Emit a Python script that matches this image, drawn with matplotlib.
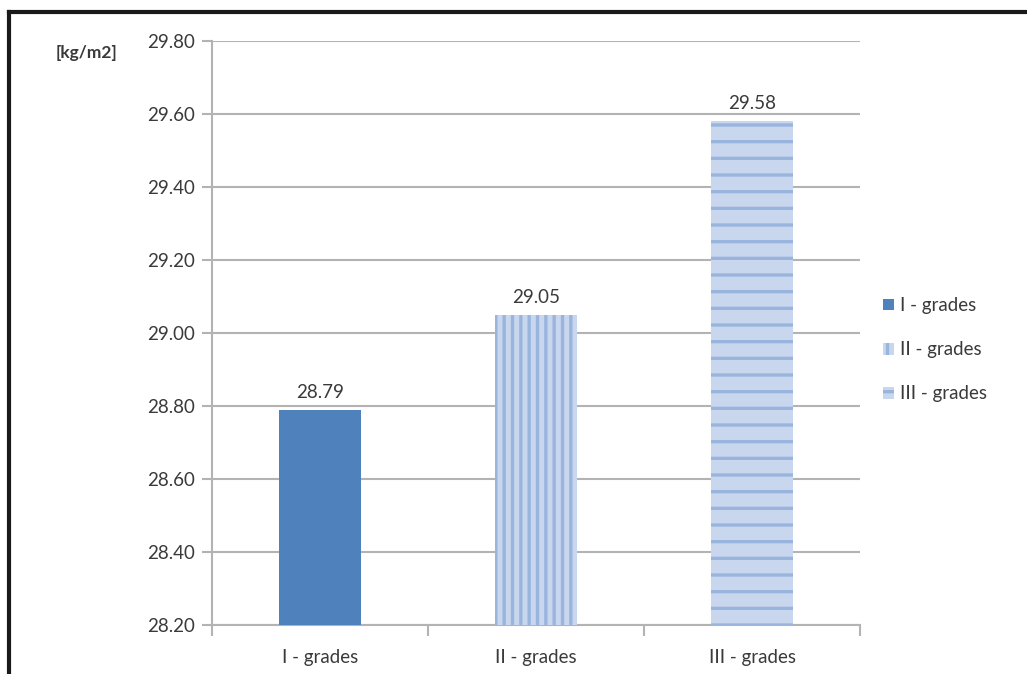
import matplotlib.pyplot as plt
from matplotlib.lines import Line2D
from matplotlib.patches import Patch

categories = ['I - grades', 'II - grades', 'III - grades']
values = [28.79, 29.05, 29.58]
y_ticks = [28.20, 28.40, 28.60, 28.80, 29.00, 29.20, 29.40, 29.60, 29.80]

plt.rcParams['font.family'] = ['Lato', 'DejaVu Sans']
plt.rcParams['hatch.linewidth'] = 2.4

face_colors = ['#4f81bd', '#c9d7ee', '#c9d7ee']
stripe_colors = ['#4f81bd', '#9ab5dd', '#9ab5dd']
hatches = ['', '||', '-']
text_color = '#3a3a3a'
grid_color = '#b3b3b3'


def main():
    fig = plt.figure(figsize=(10.27, 6.74), dpi=100)
    ax = fig.add_axes([0.2064, 0.0727, 0.6310, 0.8665])

    x = list(range(len(categories)))
    bars = ax.bar(x, [v - y_ticks[0] for v in values], bottom=y_ticks[0],
                  width=0.38, color=face_colors, edgecolor=stripe_colors,
                  linewidth=0, zorder=3)
    for bar, h in zip(bars, hatches):
        bar.set_hatch(h)

    for xi, v in zip(x, values):
        ax.text(xi, v + 0.025, f'{v:.2f}', ha='center', va='bottom',
                fontsize=13.5, color=text_color)

    ax.set_xlim(-0.5, 2.5)
    ax.set_ylim(y_ticks[0], y_ticks[-1])
    ax.set_yticks(y_ticks)
    ax.set_yticklabels([f'{t:.2f}' for t in y_ticks])
    ax.set_xticks(x)
    ax.set_xticklabels(categories)
    ax.set_xticks([-0.5, 0.5, 1.5, 2.5], minor=True)

    ax.yaxis.grid(True, color=grid_color, linewidth=1.5, zorder=0)
    ax.set_axisbelow(True)
    for side in ['top', 'right']:
        ax.spines[side].set_visible(False)
    for side in ['left', 'bottom']:
        ax.spines[side].set_color(grid_color)
        ax.spines[side].set_linewidth(1.5)

    ax.tick_params(axis='y', length=7, width=1.5, color=grid_color,
                   labelsize=13.5, labelcolor=text_color, pad=5)
    ax.tick_params(axis='x', which='major', length=0, labelsize=13.5,
                   labelcolor=text_color, pad=17)
    ax.tick_params(axis='x', which='minor', length=8, width=1.5,
                   color=grid_color)

    fig.text(0.084, 0.922, '[kg/m2]', fontsize=12.5, fontweight='bold',
             color=text_color, ha='center', va='center')

    handles = [Patch(facecolor=fc, edgecolor=sc, hatch=h, linewidth=0)
               for fc, sc, h in zip(face_colors, stripe_colors, hatches)]
    fig.legend(handles, categories, loc='center left',
               bbox_to_anchor=(0.843, 0.481), frameon=False, fontsize=13.5,
               handlelength=0.6, handleheight=0.6, handletextpad=0.3,
               labelspacing=1.45, labelcolor=text_color)

    # outer frame: top and left edges only
    fig.add_artist(Line2D([0.009, 1.0], [0.982, 0.982], color='#1a1a1a',
                          linewidth=3, transform=fig.transFigure))
    fig.add_artist(Line2D([0.009, 0.009], [0.0, 0.982], color='#1a1a1a',
                          linewidth=3, transform=fig.transFigure))

    fig.savefig('out.png', dpi=100)


if __name__ == '__main__':
    main()
